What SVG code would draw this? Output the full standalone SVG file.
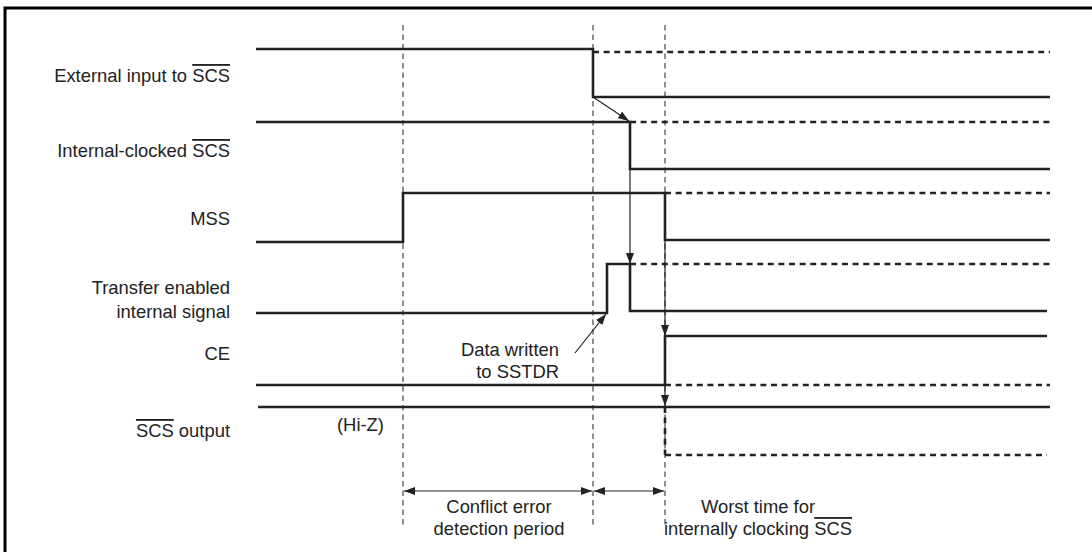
<svg xmlns="http://www.w3.org/2000/svg" width="1092" height="552" viewBox="0 0 1092 552">
<style>
text{font-family:"Liberation Sans",Arial,sans-serif;font-size:18.4px;fill:#222}
.r{text-anchor:end}
.m{text-anchor:middle}
.ov{text-decoration:overline}
.sig{fill:none;stroke:#222;stroke-width:2.6;stroke-linejoin:miter}
.dsh{fill:none;stroke:#222;stroke-width:2.6;stroke-dasharray:6 4.6}
.guide{fill:none;stroke:#333;stroke-width:1.1;stroke-dasharray:5.5 4}
.thin{fill:none;stroke:#222;stroke-width:1.2}
.frame{fill:none;stroke:#000;stroke-width:3}
</style>
<defs>
<marker id="ah" markerUnits="userSpaceOnUse" markerWidth="11" markerHeight="8" refX="11" refY="4" orient="auto">
<path d="M0,0 L11,4 L0,8 z" fill="#222"/>
</marker>
<marker id="as" markerUnits="userSpaceOnUse" markerWidth="11" markerHeight="8" refX="0" refY="4" orient="auto">
<path d="M11,0 L0,4 L11,8 z" fill="#222"/>
</marker>
</defs>
<path class="frame" d="M5,552 V8 H1092"/>
<g id="guides">
<line class="guide" x1="403" y1="25" x2="403" y2="527"/>
<line class="guide" x1="593" y1="25" x2="593" y2="527"/>
<line class="guide" x1="665" y1="25" x2="665" y2="525"/>
</g>
<g id="labels">
<text class="r" x="230" y="82">External input to <tspan class="ov">SCS</tspan></text>
<text class="r" x="230" y="157">Internal-clocked <tspan class="ov">SCS</tspan></text>
<text class="r" x="230" y="225">MSS</text>
<text class="r" x="230" y="294">Transfer enabled</text>
<text class="r" x="230" y="318">internal signal</text>
<text class="r" x="230" y="360">CE</text>
<text class="r" x="230" y="437"><tspan class="ov">SCS</tspan> output</text>
</g>
<g id="sig-ext">
<path class="sig" d="M256,49 H593 V97 H1050"/>
<line class="dsh" x1="593" y1="52" x2="1050" y2="52"/>
</g>
<g id="sig-int">
<path class="sig" d="M256,122 H630 V169 H1050"/>
<line class="dsh" x1="630" y1="122" x2="1050" y2="122"/>
</g>
<g id="sig-mss">
<path class="sig" d="M256,242 H403 V193 H665 V240 H1050"/>
<line class="dsh" x1="665" y1="193" x2="1050" y2="193"/>
</g>
<g id="sig-te">
<path class="sig" d="M256,313 H607 V264 H630 V311 H1047"/>
<line class="dsh" x1="630" y1="264" x2="1050" y2="264"/>
</g>
<g id="sig-ce">
<path class="sig" d="M256,385 H665 V336 H1047"/>
<line class="dsh" x1="665" y1="385" x2="1050" y2="385"/>
</g>
<g id="sig-scs">
<line class="sig" x1="258" y1="407" x2="1050" y2="407"/>
<line class="dsh" x1="665" y1="407" x2="665" y2="455"/>
<line class="dsh" x1="665" y1="455" x2="1047" y2="455"/>
<text x="337" y="431">(Hi-Z)</text>
</g>
<g id="connectors">
<line class="thin" x1="593" y1="97" x2="629" y2="121" marker-end="url(#ah)"/>
<line class="thin" x1="630" y1="169" x2="630" y2="264" marker-end="url(#ah)"/>
<line class="thin" x1="575" y1="353" x2="606" y2="314" marker-end="url(#ah)"/>
<line class="thin" x1="665" y1="240" x2="665" y2="336" marker-end="url(#ah)"/>
<line class="thin" x1="665" y1="385" x2="665" y2="406" marker-end="url(#ah)"/>
<line class="thin" x1="404" y1="491" x2="592" y2="491" marker-start="url(#as)" marker-end="url(#ah)"/>
<line class="thin" x1="594" y1="491" x2="664" y2="491" marker-start="url(#as)" marker-end="url(#ah)"/>
</g>
<g id="notes">
<text class="r" x="559" y="356">Data written</text>
<text class="r" x="559" y="378">to SSTDR</text>
<text class="m" x="499" y="513">Conflict error</text>
<text class="m" x="499" y="535">detection period</text>
<text class="m" x="758" y="513">Worst time for</text>
<text class="m" x="758" y="535">internally clocking <tspan class="ov">SCS</tspan></text>
</g>
</svg>
